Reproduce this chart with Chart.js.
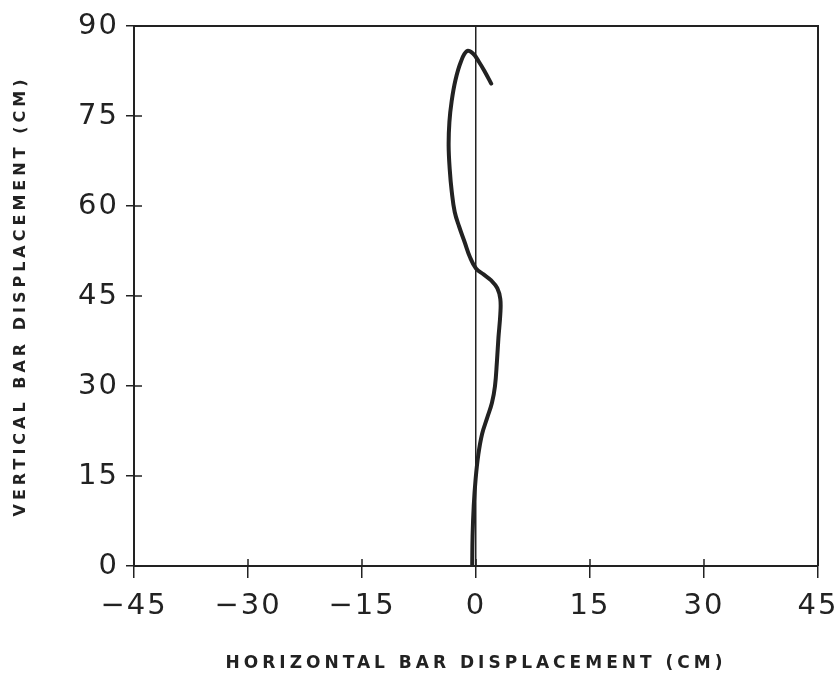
<!DOCTYPE html>
<html>
<head>
<meta charset="utf-8">
<script src="https://cdn.jsdelivr.net/npm/chart.js@4"></script>
<style>
  html, body { margin: 0; padding: 0; background: #fff; }
  #wrap { width: 839px; height: 677px; }
</style>
</head>
<body>
<div id="wrap"><canvas id="myChart" width="839" height="677"></canvas></div>
<script>
// horizontal / vertical bar displacement (cm)
const xDisp = [-0.5, -0.45, -0.3, -0.05, 0.3, 0.8, 1.5, 2.1, 2.5, 2.75, 2.95, 3.2, 3.2, 2.8, 2.0, 1.0, 0, -0.8, -1.5, -2.2, -2.8, -3.2, -3.45, -3.6, -3.5, -3.2, -2.7, -2.0, -1.2, -0.4, 0.4, 1.2, 2.0];
const yDisp = [0, 5, 10, 14.5, 18.5, 22, 24.8, 27.2, 30, 34, 38, 42, 44.5, 46.3, 47.6, 48.6, 49.6, 51.5, 54, 56.5, 59, 62.5, 66, 70, 74, 77.5, 81, 84, 85.8, 85.4, 84, 82.3, 80.4];
const xTicks = [-45, -30, -15, 0, 15, 30, 45];
const yTicks = [0, 15, 30, 45, 60, 75, 90];

const ink = "#222";

let pts = [];
for (let i = 0; i < xDisp.length; i++) {
    pts.push({x: xDisp[i], y: yDisp[i]});
}

// spaced lettering like the original, plus top/right frame and inside tick stubs
const paperPlugin = {
    id: "paper",
    beforeDraw(chart) {
        // axis titles are drawn with the grid layer, before the datasets
        chart.ctx.letterSpacing = "4px";
    },
    afterDatasetsDraw(chart) {
        // tick labels (z: 1) come after the datasets
        chart.ctx.letterSpacing = "2px";
    },
    afterDraw(chart) {
        const ctx = chart.ctx;
        const a = chart.chartArea;
        const sx = chart.scales.x, sy = chart.scales.y;
        ctx.save();
        ctx.strokeStyle = ink;
        ctx.lineWidth = 2;
        ctx.beginPath();
        ctx.moveTo(a.left, a.top);
        ctx.lineTo(a.right, a.top);
        ctx.lineTo(a.right, a.bottom);
        ctx.stroke();
        ctx.lineWidth = 1.5;
        ctx.beginPath();
        xTicks.forEach(v => {
            const px = sx.getPixelForValue(v);
            ctx.moveTo(px, a.bottom);
            ctx.lineTo(px, a.bottom - 7);
        });
        yTicks.forEach(v => {
            const py = sy.getPixelForValue(v);
            ctx.moveTo(a.left, py);
            ctx.lineTo(a.left + 8, py);
        });
        ctx.stroke();
        ctx.restore();
    }
};

new Chart("myChart", {
    type: "scatter",
    data: {
        datasets: [{
            data: pts,
            showLine: true,
            borderColor: ink,
            borderWidth: 4,
            pointRadius: 0,
            tension: 0.4,
            borderCapStyle: "round"
        }]
    },
    options: {
        responsive: false,
        animation: false,
        layout: {padding: {top: 26, right: 21, left: 0, bottom: 0}},
        plugins: {legend: {display: false}, tooltip: {enabled: false}},
        scales: {
            x: {
                type: "linear",
                min: -45,
                max: 45,
                afterBuildTicks: s => { s.ticks = xTicks.map(v => ({value: v})); },
                afterFit: s => { s.height = 111; s.paddingLeft = 0; s.paddingRight = 0; },
                ticks: {
                    z: 1,
                    color: ink,
                    padding: 11,
                    maxRotation: 0,
                    autoSkip: false,
                    font: {family: "DejaVu Sans", size: 29},
                    callback: v => (v < 0 ? "\u2212" + (-v) : "" + v)
                },
                grid: {
                    color: c => (c.tick && c.tick.value === 0 ? ink : "rgba(0,0,0,0)"),
                    tickColor: ink,
                    lineWidth: 1.5,
                    tickLength: 12
                },
                border: {display: true, color: ink, width: 2},
                title: {
                    display: true,
                    text: "HORIZONTAL BAR DISPLACEMENT (CM)",
                    color: ink,
                    font: {family: "DejaVu Sans", size: 17, weight: "bold"},
                    padding: {top: 0, bottom: 3}
                }
            },
            y: {
                min: 0,
                max: 90,
                afterBuildTicks: s => { s.ticks = yTicks.map(v => ({value: v})); },
                afterFit: s => { s.width = 134; s.paddingTop = 0; s.paddingBottom = 0; },
                ticks: {
                    z: 1,
                    color: ink,
                    padding: 7,
                    font: {family: "DejaVu Sans", size: 29}
                },
                grid: {
                    drawOnChartArea: false,
                    tickColor: ink,
                    lineWidth: 1.5,
                    tickLength: 8
                },
                border: {display: true, color: ink, width: 2},
                title: {
                    display: true,
                    text: "VERTICAL BAR DISPLACEMENT (CM)",
                    color: ink,
                    font: {family: "DejaVu Sans", size: 16, weight: "bold"},
                    padding: {top: 11, bottom: 0}
                }
            }
        }
    },
    plugins: [paperPlugin]
});
</script>
</body>
</html>
